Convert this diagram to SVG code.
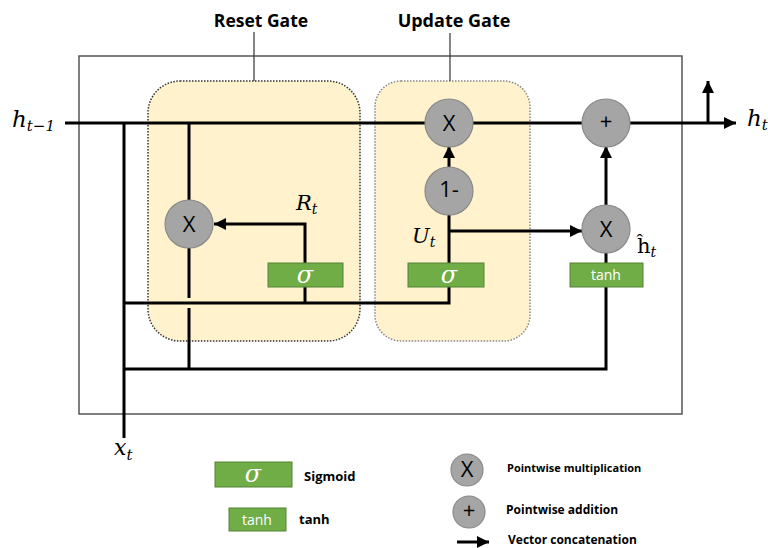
<svg xmlns="http://www.w3.org/2000/svg" width="768" height="548" viewBox="0 0 768 548">
<style>
.ln{stroke:#000;stroke-width:3;fill:none}
.op{fill:#a5a5a5;stroke:#8a8a8a;stroke-width:1.2}
.opt{font-family:"Open Sans","Liberation Sans",sans-serif;font-size:22px;fill:#000;text-anchor:middle}
.gb{fill:#70ad47;stroke:#548235;stroke-width:1}
.gt{font-family:"Open Sans","Liberation Sans",sans-serif;font-size:14px;fill:#fff;text-anchor:middle}
.sig{font-family:"DejaVu Serif","Liberation Serif",serif;font-style:italic;font-size:24px;fill:#fff;text-anchor:middle}
.m{font-family:"DejaVu Serif","Liberation Serif",serif;font-style:italic;fill:#000}
.lbl{font-family:"Open Sans","Liberation Sans",sans-serif;font-weight:bold;fill:#000}
</style>
<defs>
<marker id="ah" markerUnits="userSpaceOnUse" markerWidth="14" markerHeight="12" refX="12" refY="6" orient="auto">
<path d="M0,0 L12,6 L0,12 Z" fill="#000"/>
</marker>
</defs>
<rect width="768" height="548" fill="#fff"/>
<g id="cell-box"><rect x="79" y="56" width="603" height="358" fill="none" stroke="#555" stroke-width="1.5"/></g>
<g id="reset-gate">
<rect x="148" y="81" width="212" height="260" rx="32" fill="#fff2cc" stroke="#333" stroke-width="1.5" stroke-dasharray="1.5 1.5"/>
<line x1="254" y1="32" x2="254" y2="81" stroke="#333" stroke-width="1.2"/>
<text class="lbl" x="261" y="27" font-size="17.5" text-anchor="middle">Reset Gate</text>
</g>
<g id="update-gate">
<rect x="375" y="81" width="155" height="260" rx="26" fill="#fff2cc" stroke="#888" stroke-width="1.5" stroke-dasharray="1.5 1.5"/>
<line x1="450" y1="33" x2="450" y2="81" stroke="#333" stroke-width="1.2"/>
<text class="lbl" x="454" y="27" font-size="18" text-anchor="middle">Update Gate</text>
</g>
<g id="connectors">
<line class="ln" x1="65" y1="123" x2="736" y2="123" marker-end="url(#ah)"/>
<line class="ln" x1="708" y1="123" x2="708" y2="81" marker-end="url(#ah)"/>
<line class="ln" x1="124" y1="122" x2="124" y2="438"/>
<line class="ln" x1="189" y1="122" x2="189" y2="200"/>
<path class="ln" d="M189,248 V298 M189,308 V369"/>
<path class="ln" d="M123,303 H449 V287"/>
<line class="ln" x1="305" y1="303" x2="305" y2="287"/>
<path class="ln" d="M305,263 V224 H214" marker-end="url(#ah)"/>
<line class="ln" x1="449" y1="263" x2="449" y2="215"/>
<line class="ln" x1="449" y1="167" x2="449" y2="146" marker-end="url(#ah)"/>
<path class="ln" d="M449,231 H582" marker-end="url(#ah)"/>
<path class="ln" d="M123,369 H606 V287"/>
<line class="ln" x1="606" y1="263" x2="606" y2="252"/>
<line class="ln" x1="606" y1="205" x2="606" y2="146" marker-end="url(#ah)"/>
</g>
<g id="reset-mult"><circle class="op" cx="189" cy="224" r="24"/><text class="opt" x="189" y="232">X</text></g>
<g id="update-mult"><circle class="op" cx="449" cy="123" r="24"/><text class="opt" x="449" y="131">X</text></g>
<g id="one-minus"><circle class="op" cx="449" cy="191" r="24"/><text class="opt" x="449" y="197" font-size="15">1-</text></g>
<g id="add"><circle class="op" cx="606" cy="123" r="24"/><text class="opt" x="606" y="129" font-size="17">+</text></g>
<g id="cand-mult"><circle class="op" cx="606" cy="229" r="24"/><text class="opt" x="606" y="237">X</text></g>
<g id="reset-sigma"><rect class="gb" x="268" y="263" width="75" height="24"/><text class="sig" x="305" y="283">σ</text></g>
<g id="update-sigma"><rect class="gb" x="408" y="263" width="76" height="24"/><text class="sig" x="449" y="283">σ</text></g>
<g id="tanh"><rect class="gb" x="570" y="263" width="73" height="24" stroke="none"/><text class="gt" x="606" y="280">tanh</text></g>
<g id="labels">
<text class="m" x="12" y="127" font-size="23">h<tspan font-size="15" dy="4">t−1</tspan></text>
<text class="m" x="747" y="126" font-size="23">h<tspan font-size="15" dy="4">t</tspan></text>
<text class="m" x="114" y="455" font-size="22">x<tspan font-size="15" dy="5">t</tspan></text>
<text class="m" x="296" y="210" font-size="21">R<tspan font-size="14" dy="4">t</tspan></text>
<text class="m" x="412" y="243" font-size="21">U<tspan font-size="14" dy="4">t</tspan></text>
<text x="637" y="253" font-family="DejaVu Serif,Liberation Serif,serif" font-size="21" fill="#000">ĥ<tspan font-style="italic" font-size="14" dy="4">t</tspan></text>
</g>
<g id="legend">
<rect class="gb" x="215" y="462" width="77" height="25"/><text class="sig" x="253" y="482">σ</text>
<text class="lbl" x="304" y="481" font-size="13">Sigmoid</text>
<rect class="gb" x="229" y="508" width="57" height="23" stroke="none"/><text class="gt" x="257" y="525" font-size="13">tanh</text>
<text class="lbl" x="299" y="524" font-size="13">tanh</text>
<circle class="op" cx="467" cy="470" r="16"/><text class="opt" x="467" y="477" font-size="17">X</text>
<text class="lbl" x="507" y="472" font-size="11">Pointwise multiplication</text>
<circle class="op" cx="469" cy="512" r="16"/><text class="opt" x="469" y="518" font-size="15">+</text>
<text class="lbl" x="506" y="514" font-size="12">Pointwise addition</text>
<line class="ln" x1="457" y1="542" x2="489" y2="542" marker-end="url(#ah)"/>
<text class="lbl" x="508" y="544" font-size="12">Vector concatenation</text>
</g>
</svg>
